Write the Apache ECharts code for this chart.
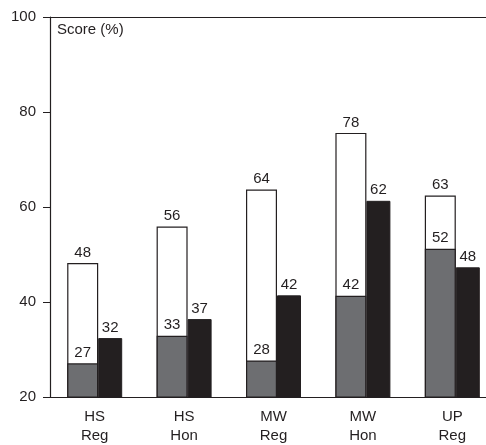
<!DOCTYPE html>
<html>
<head>
<meta charset="utf-8">
<script src="https://cdn.jsdelivr.net/npm/echarts@6/dist/echarts.min.js"></script>
<style>
  html, body { margin: 0; padding: 0; background: #fff; overflow: hidden; }
  /* the plot runs a little past the right edge of the window, as in the original */
  #chart { width: 497px; height: 445px; }
</style>
</head>
<body>
<div id="chart"></div>
<script>
const categories = ['HS\nReg', 'HS\nHon', 'MW\nReg', 'MW\nHon', 'UP\nReg']
const yTicks = [20, 40, 60, 80, 100]

// bar heights as drawn in the picture
const whiteHeights = [48.2, 55.9, 63.7, 75.6, 62.4]
const grayHeights = [27.1, 32.9, 27.7, 41.3, 51.2]
const blackHeights = [32.4, 36.4, 41.4, 61.3, 47.3]

// numbers printed above the bars
const whiteLabels = [48, 56, 64, 78, 63]
const grayLabels = [27, 33, 28, 42, 52]
const blackLabels = [32, 37, 42, 62, 48]

const ink = '#231f20'
const font = 'Liberation Sans, Arial, sans-serif'

const chart = echarts.init(document.getElementById('chart'))

function barLabel (texts) {
  return {
    show: true,
    position: 'top',
    distance: 3,
    color: ink,
    fontFamily: font,
    fontSize: 15,
    formatter: (p) => String(texts[p.dataIndex])
  }
}

chart.setOption({
  animation: false,
  grid: { left: 50, right: 0, top: 17, bottom: 47 },
  xAxis: [{
    type: 'category',
    data: categories,
    axisLine: { lineStyle: { color: ink, width: 1.2 } },
    axisTick: { show: false },
    axisLabel: {
      color: ink,
      fontFamily: font,
      fontSize: 15,
      lineHeight: 19,
      margin: 10
    }
  }, {
    // hidden twin axis so the grey bar can sit over the white one
    type: 'category',
    data: categories,
    position: 'top',
    axisLine: { lineStyle: { color: ink, width: 1.2 } },
    axisTick: { show: false },
    axisLabel: { show: false }
  }],
  yAxis: {
    type: 'value',
    min: yTicks[0],
    max: yTicks[yTicks.length - 1],
    interval: 20,
    splitLine: { show: false },
    axisLine: { show: true, lineStyle: { color: ink, width: 1.2 } },
    axisTick: { show: true, length: 7, lineStyle: { color: ink } },
    axisLabel: { color: ink, fontFamily: font, fontSize: 15, margin: 14 }
  },
  series: [{
    name: 'white',
    type: 'bar',
    xAxisIndex: 0,
    data: whiteHeights,
    barWidth: 31,
    itemStyle: { color: '#fff', borderColor: ink, borderWidth: 1.2 },
    label: barLabel(whiteLabels),
    z: 2
  }, {
    name: 'black',
    type: 'bar',
    xAxisIndex: 0,
    data: blackHeights,
    barWidth: 24,
    barGap: 0,
    itemStyle: { color: ink, borderColor: ink, borderWidth: 1 },
    label: barLabel(blackLabels),
    z: 2
  }, {
    name: 'grey',
    type: 'bar',
    xAxisIndex: 1,
    data: grayHeights,
    barWidth: 31,
    itemStyle: { color: '#6d6e71', borderColor: ink, borderWidth: 1.2 },
    label: barLabel(grayLabels),
    z: 3
  }, {
    name: 'slot',
    type: 'bar',
    xAxisIndex: 1,
    data: [],
    barWidth: 24,
    barGap: 0
  }],
  graphic: [{
    type: 'text',
    left: 57,
    top: 22,
    style: { text: 'Score (%)', fill: ink, font: '15px ' + font }
  }]
})
</script>
</body>
</html>
